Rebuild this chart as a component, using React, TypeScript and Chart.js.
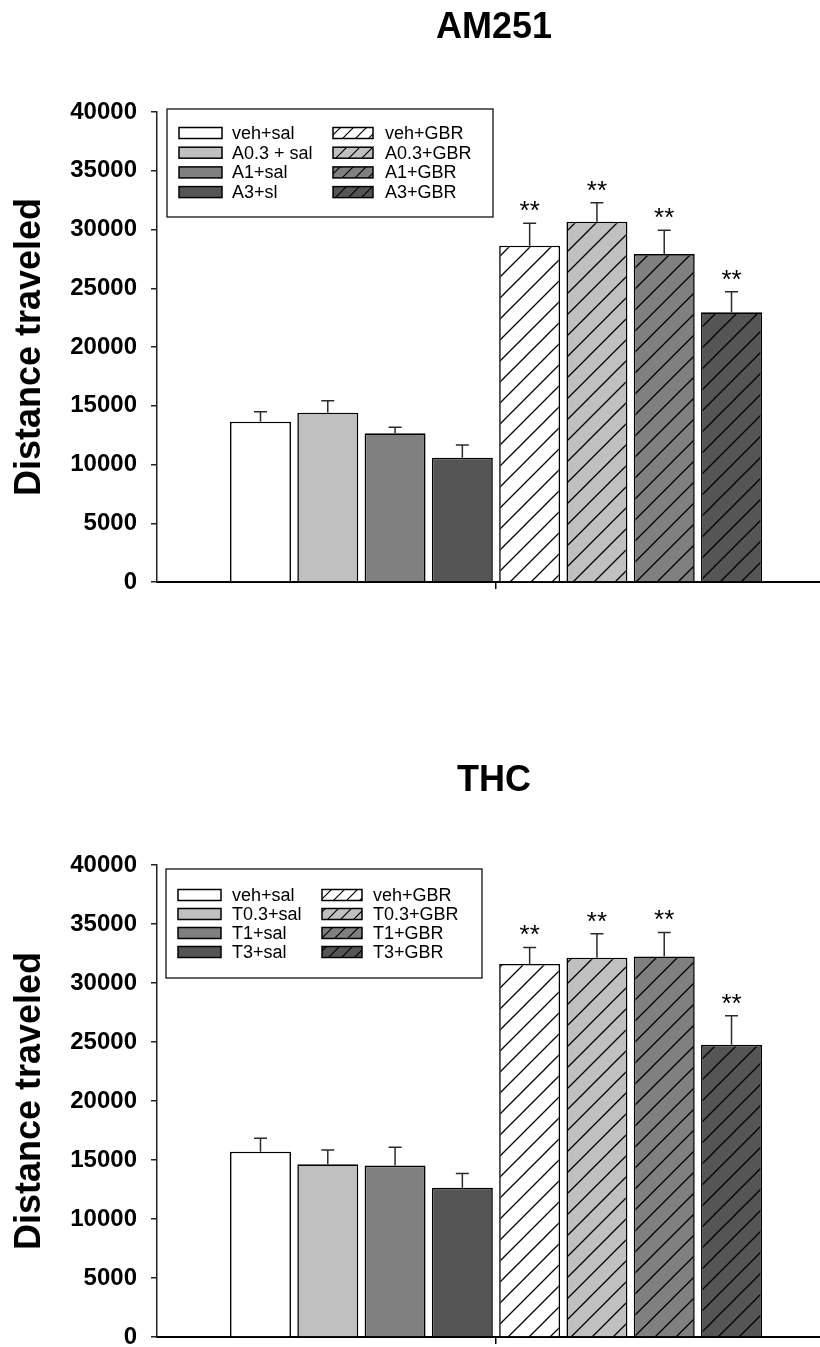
import React, { useEffect, useRef } from 'react';
import { Chart, registerables } from 'chart.js';

Chart.register(...registerables);

// ---------- data ----------
const amLabels = ['veh+sal', 'A0.3 + sal', 'A1+sal', 'A3+sl', 'veh+GBR', 'A0.3+GBR', 'A1+GBR', 'A3+GBR'];
const amMeans = [13640, 14410, 12650, 10580, 28620, 30670, 27910, 22950];
const amSem = [850, 1020, 510, 1080, 1910, 1610, 2020, 1760];

const thcLabels = ['veh+sal', 'T0.3+sal', 'T1+sal', 'T3+sal', 'veh+GBR', 'T0.3+GBR', 'T1+GBR', 'T3+GBR'];
const thcMeans = [15700, 14630, 14530, 12640, 31610, 32150, 32250, 24760];
const thcSem = [1140, 1220, 1550, 1210, 1400, 2030, 2030, 2460];

const stars = ['', '', '', '', '**', '**', '**', '**'];
const yTickValues = [0, 5000, 10000, 15000, 20000, 25000, 30000, 35000, 40000];
const axisTitle = 'Distance traveled';

// ---------- style ----------
const FONT = '"Liberation Sans", Arial, Helvetica, sans-serif';
const fills = ['#ffffff', '#c0c0c0', '#808080', '#555555', '#ffffff', '#c0c0c0', '#808080', '#555555'];
const hatched = [false, false, false, false, true, true, true, true];

function makePattern(color: string, p: number, lw: number): CanvasPattern | string {
  const c = document.createElement('canvas');
  c.width = p;
  c.height = p;
  const g = c.getContext('2d');
  if (!g) return color;
  g.fillStyle = color;
  g.fillRect(0, 0, p, p);
  g.strokeStyle = '#000';
  g.lineWidth = lw;
  g.beginPath();
  g.moveTo(-1, p + 1);
  g.lineTo(p + 1, -1);
  g.moveTo(-2, 2);
  g.lineTo(2, -2);
  g.moveTo(p - 2, p + 2);
  g.lineTo(p + 2, p - 2);
  g.stroke();
  return g.createPattern(c, 'repeat') || color;
}

type LegendLayout = {
  box: { x: number; y: number; w: number; h: number };
  rowStart: number;
  rowPitch: number;
  col: { sx: number; sw: number; tx: number }[];
};

type Props = {
  labels: string[];
  means: number[];
  sem: number[];
  title: string;
  canvasHeight: number;
  plotBottom: number;
  legend: LegendLayout;
};

function BarPanel({ labels, means, sem, title, canvasHeight, plotBottom, legend }: Props) {
  const ref = useRef<HTMLCanvasElement>(null);

  useEffect(() => {
    const canvas = ref.current;
    if (!canvas) return;
    const barFills = fills.map((c, i) => (hatched[i] ? makePattern(c, 21, 1.3) : c));
    const legendFills = fills.map((c, i) => (hatched[i] ? makePattern(c, 13, 1.2) : c));

    const extras = {
      id: 'extras',
      afterDatasetsDraw(chart: any) {
        const ctx: CanvasRenderingContext2D = chart.ctx;
        const meta = chart.getDatasetMeta(0);
        const ys = chart.scales.y;
        ctx.save();
        meta.data.forEach((el: any, i: number) => {
          const top = ys.getPixelForValue(means[i] + sem[i]);
          ctx.strokeStyle = '#2a2a2a';
          ctx.lineWidth = 1.5;
          ctx.beginPath();
          ctx.moveTo(el.x, el.y);
          ctx.lineTo(el.x, top);
          ctx.moveTo(el.x - 6.5, top);
          ctx.lineTo(el.x + 6.5, top);
          ctx.stroke();
          if (stars[i]) {
            ctx.fillStyle = '#000';
            ctx.font = `26px ${FONT}`;
            ctx.textAlign = 'center';
            ctx.textBaseline = 'alphabetic';
            ctx.fillText(stars[i], el.x, top - 4);
          }
        });

        // title
        ctx.fillStyle = '#000';
        ctx.font = `bold 36px ${FONT}`;
        ctx.textAlign = 'center';
        ctx.textBaseline = 'alphabetic';
        ctx.fillText(title, 494, 38);

        // legend
        const b = legend.box;
        ctx.fillStyle = '#fff';
        ctx.fillRect(b.x, b.y, b.w, b.h);
        ctx.strokeStyle = '#111';
        ctx.lineWidth = 1.3;
        ctx.strokeRect(b.x, b.y, b.w, b.h);
        ctx.font = `18px ${FONT}`;
        ctx.textAlign = 'left';
        ctx.textBaseline = 'middle';
        labels.forEach((lab, i) => {
          const col = legend.col[i < 4 ? 0 : 1];
          const row = i % 4;
          const cy = legend.rowStart + row * legend.rowPitch;
          ctx.fillStyle = legendFills[i] as any;
          ctx.fillRect(col.sx, cy - 5.5, col.sw, 11);
          ctx.strokeStyle = '#000';
          ctx.lineWidth = 1.5;
          ctx.strokeRect(col.sx, cy - 5.5, col.sw, 11);
          ctx.fillStyle = '#000';
          ctx.fillText(lab, col.tx, cy + 1);
        });
        ctx.restore();
      },
    };

    const chart = new Chart(canvas, {
      type: 'bar',
      data: {
        datasets: [
          {
            data: means.map((v, i) => ({ x: i + 1, y: v })),
            backgroundColor: barFills as any,
            borderColor: '#000',
            borderWidth: 1.6,
            barPercentage: 0.906,
            categoryPercentage: 1,
          },
        ],
      },
      options: {
        animation: false,
        responsive: false,
        devicePixelRatio: 1,
        layout: { padding: { top: 112, left: 0, right: 0, bottom: 0 } },
        plugins: {
          legend: { display: false },
          tooltip: { enabled: false },
          title: { display: false },
        },
        scales: {
          x: {
            type: 'linear',
            offset: false,
            min: -0.538,
            max: 9.315,
            afterBuildTicks: (s: any) => {
              s.ticks = [{ value: 4.5 }];
            },
            afterFit: (s: any) => {
              s.height = canvasHeight - plotBottom;
            },
            ticks: { display: false },
            grid: { offset: false, drawOnChartArea: false, drawTicks: true, tickLength: 7, color: '#000', lineWidth: 1.5 },
            border: { display: true, color: '#000', width: 2 },
          },
          y: {
            type: 'linear',
            min: 0,
            max: 40000,
            afterBuildTicks: (s: any) => {
              s.ticks = yTickValues.map((v) => ({ value: v }));
            },
            afterFit: (s: any) => {
              s.width = 157;
            },
            ticks: {
              callback: (v: any) => String(v),
              color: '#000',
              padding: 14,
              font: { family: FONT, size: 24, weight: 'bold' },
            },
            grid: { drawOnChartArea: false, drawTicks: true, tickLength: 6, color: '#222', lineWidth: 1.5 },
            border: { display: true, color: '#222', width: 1.5 },
            title: {
              display: true,
              text: axisTitle,
              color: '#000',
              font: { family: FONT, size: 36, weight: 'bold', lineHeight: 1.2 },
              padding: { top: 8, bottom: 0 },
            },
          },
        },
      } as any,
      plugins: [extras],
    });
    return () => chart.destroy();
  }, []);

  return <canvas ref={ref} width={820} height={canvasHeight} style={{ display: 'block' }} />;
}

export default function App() {
  useEffect(() => {
    document.body.style.margin = '0';
    document.body.style.overflow = 'hidden';
  }, []);
  return (
    <div style={{ position: 'relative', width: 820, height: 1347, overflow: 'hidden', background: '#fff' }}>
      <div style={{ position: 'absolute', left: 0, top: 0 }}>
        <BarPanel
          labels={amLabels}
          means={amMeans}
          sem={amSem}
          title="AM251"
          canvasHeight={753}
          plotBottom={582}
          legend={{
            box: { x: 167, y: 109, w: 326, h: 108 },
            rowStart: 133,
            rowPitch: 19.7,
            col: [
              { sx: 179, sw: 43, tx: 232 },
              { sx: 333, sw: 40, tx: 385 },
            ],
          }}
        />
      </div>
      <div style={{ position: 'absolute', left: 0, top: 753 }}>
        <BarPanel
          labels={thcLabels}
          means={thcMeans}
          sem={thcSem}
          title="THC"
          canvasHeight={620}
          plotBottom={584}
          legend={{
            box: { x: 166, y: 116, w: 316, h: 109 },
            rowStart: 142,
            rowPitch: 19,
            col: [
              { sx: 178, sw: 43, tx: 232 },
              { sx: 322, sw: 40, tx: 373 },
            ],
          }}
        />
      </div>
    </div>
  );
}
